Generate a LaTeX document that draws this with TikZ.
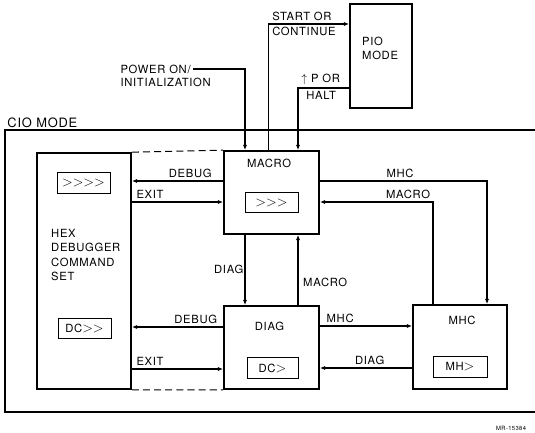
\documentclass[tikz,border=0pt]{standalone}
\usepackage{fontspec}
\setmainfont{TeX Gyre Heros}[LetterSpace=6]
\usepackage{tikz}
\usetikzlibrary{arrows.meta,positioning}
\newcommand\chv{{\fontsize{12.5}{12}\selectfont$>$}}

\begin{document}
\begin{tikzpicture}[
  x=0.03cm, y=-0.03cm,
  font=\fontsize{9.6}{12}\selectfont,
  modebox/.style={draw, line width=1.4pt, inner sep=0pt},
  prompt/.style={draw, line width=0.8pt, minimum width=1.59cm, minimum height=0.62cm, inner sep=0pt},
  lbl/.style={inner sep=2.5pt},
  arr/.style={-{Latex[length=4.5pt,width=3.5pt]}, line width=0.9pt},
  link/.style={line width=0.9pt, dash pattern=on 6pt off 3.5pt}
]
\useasboundingbox (0,0) rectangle (535,433);
% CIO frame (right side runs off the page)
\node[draw, line width=1.3pt, minimum width=16.2cm, minimum height=8.46cm] (cio) at (275,271) {};
\node[anchor=base west, inner sep=0pt, font=\fontsize{11}{13}\selectfont] (ciolbl) at ([xshift=0.09cm, yshift=0.06cm]cio.north west) {CIO MODE};

% boxes
\node[modebox, minimum width=2.82cm, minimum height=7.08cm] (hex) at (84,271) {};
\node[modebox, minimum width=2.85cm, minimum height=2.49cm] (macro) at (271.5,192.5) {};
\node[modebox, minimum width=2.85cm, minimum height=2.49cm] (diag) at (271.5,347.5) {};
\node[modebox, minimum width=2.82cm, minimum height=2.52cm] (mhc) at (460,347) {};
\node[modebox, minimum width=1.86cm, minimum height=3.12cm] (pio) at (381,56) {};

% titles
\node[anchor=west, align=left, inner sep=0pt] (hexttl) at (51,255) {HEX\\DEBUGGER\\COMMAND\\SET};
\node[inner sep=0pt] (macrottl) at (269,163) {MACRO};
\node[inner sep=0pt] (diagttl) at (269.5,326.5) {DIAG};
\node[inner sep=0pt] (mhcttl) at (462,320) {MHC};
\node[anchor=west, align=left, inner sep=0pt] (piottl) at (362,48) {PIO\\MODE};

% prompts
\node[prompt] (hexp1) at (83.5,183) {\chv\chv\chv\chv};
\node[prompt] (hexp2) at (84.5,328.5) {DC\chv\chv};
\node[prompt] (macrop) at (271.5,202.5) {\chv\chv\chv};
\node[prompt, minimum width=1.53cm] (diagp) at (272.5,368) {DC\chv};
\node[prompt, minimum width=1.62cm] (mhcp) at (460,367) {MH\chv};

% dashed links
\draw[link] (hex.north east) -- (macro.north west);
\draw[link] (hex.south east) -- (diag.south west);

% side points
\coordinate (m1) at ([yshift=0.345cm]macro.west);
\coordinate (m2) at ([yshift=-0.285cm]macro.west);
\coordinate (m3) at ([yshift=0.345cm]macro.east);
\coordinate (m4) at ([yshift=-0.285cm]macro.east);
\coordinate (d1) at ([yshift=0.615cm]diag.west);
\coordinate (d2) at ([yshift=-0.645cm]diag.west);
\coordinate (d3) at ([yshift=0.645cm]diag.east);
\coordinate (d4) at ([yshift=-0.615cm]diag.east);

\draw[arr] (m1) -- node[lbl, above, pos=0.36] {DEBUG} (m1 -| hex.east);
\draw[arr] (m2 -| hex.east) -- node[lbl, above, pos=0.2] {EXIT} (m2);
\draw[arr] (d1) -- node[lbl, above, pos=0.3] {DEBUG} (d1 -| hex.east);
\draw[arr] (d2 -| hex.east) -- node[lbl, above, pos=0.2] {EXIT} (d2);
\draw[arr] (d3) -- node[lbl, above, pos=0.22] {MHC} (d3 -| mhc.west);
\draw[arr] (d4 -| mhc.west) -- node[lbl, above, pos=0.46] {DIAG} (d4);
\draw[arr] (m3) -| node[lbl, above, pos=0.24] {MHC} ([xshift=0.81cm]mhc.north);
\draw[arr] ([xshift=-0.81cm]mhc.north) |- node[lbl, above, pos=0.61] {MACRO} (m4);

% macro <-> diag
\draw[arr] ([xshift=-0.795cm]macro.south) -- node[left, inner sep=1pt, pos=0.49] {DIAG} ([xshift=-0.795cm]diag.north);
\draw[arr] ([xshift=0.795cm]diag.north) -- node[right, inner sep=4pt, pos=0.33] {MACRO} ([xshift=0.795cm]macro.south);

% entries from above
\node[anchor=west, inner sep=2pt] (pwr) at (118,69) {POWER ON/};
\node[anchor=west, inner sep=2pt] (init) at (118,82) {INITIALIZATION};
\draw[arr] (pwr.east) -| ([xshift=-0.795cm]macro.north);
\draw[arr] ([xshift=-0.08cm]macro.north) |- node[lbl, pos=0.5, anchor=south west] {START OR}
  node[lbl, pos=0.5, anchor=north west] {CONTINUE} ([yshift=0.96cm]pio.west);
\draw[arr] ([yshift=-0.96cm]pio.west) -| node[lbl, pos=0.5, anchor=south west] {$\uparrow$ P OR}
  node[lbl, pos=0.5, anchor=north west, xshift=0.15cm] {HALT} ([xshift=0.795cm]macro.north);

\node[anchor=base west, inner sep=0pt, font=\fontsize{5}{6}\selectfont] (mr) at (496,430) {MR-15384};
\end{tikzpicture}
\end{document}
